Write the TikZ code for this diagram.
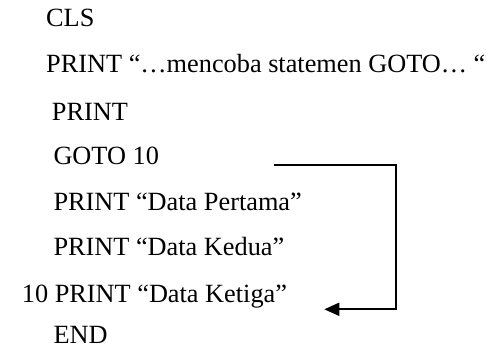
\documentclass[tikz,border=0pt]{standalone}
\usepackage{fontspec}
\setmainfont{Liberation Serif}
\usetikzlibrary{arrows.meta}
\begin{document}
\begin{tikzpicture}[x=1pt,y=-1pt,
  codeline/.style={anchor=base west,inner sep=0pt,font=\fontsize{26.3}{30}\selectfont},
  jumpline/.style={line width=2pt,-{Triangle[length=15pt,width=13pt]}}]
\useasboundingbox (0,0) rectangle (494,350);
\node[codeline] (cls) at (46,26.7) {CLS};
\node[codeline] (p1) at (46,72.7) {PRINT “…mencoba statemen GOTO… “};
\node[codeline] (p2) at (51.7,120.7) {PRINT};
\node[codeline] (goto) at (53.3,164.3) {GOTO 10};
\node[codeline] (p3) at (53.3,210) {PRINT “Data Pertama”};
\node[codeline] (p4) at (53.3,255.5) {PRINT “Data Kedua”};
\node[codeline] (p5) at (21.7,302) {10 PRINT “Data Ketiga”};
\node[codeline,text depth=0pt] (endl) at (53.3,343.5) {END};
\coordinate (jstart) at (274.3,164.5);
\coordinate (jcorner) at (395.5,164.5);
\coordinate (jend) at (324.3,309.3);
\draw[jumpline] (jstart) -- (jcorner) |- (jend);
\end{tikzpicture}
\end{document}
